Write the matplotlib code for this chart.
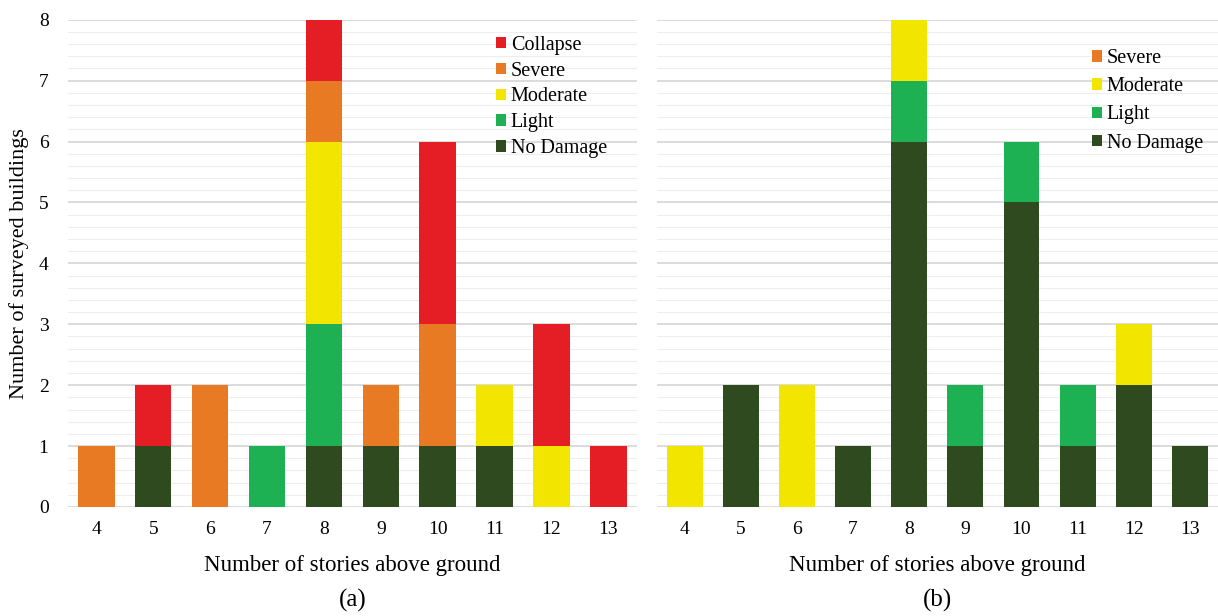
import matplotlib.pyplot as plt
from matplotlib.patches import Patch
import numpy as np

plt.rcParams['font.family'] = ['Liberation Serif', 'DejaVu Serif']

stories = [4, 5, 6, 7, 8, 9, 10, 11, 12, 13]
levels = ['No Damage', 'Light', 'Moderate', 'Severe', 'Collapse']
colors = {
    'No Damage': '#2F4A1F',
    'Light': '#1DB153',
    'Moderate': '#F2E500',
    'Severe': '#E87A24',
    'Collapse': '#E51D25',
}

# panel (a)
a_no_damage = [0, 1, 0, 0, 1, 1, 1, 1, 0, 0]
a_light = [0, 0, 0, 1, 2, 0, 0, 0, 0, 0]
a_moderate = [0, 0, 0, 0, 3, 0, 0, 1, 1, 0]
a_severe = [1, 0, 2, 0, 1, 1, 2, 0, 0, 0]
a_collapse = [0, 1, 0, 0, 1, 0, 3, 0, 2, 1]

# panel (b)
b_no_damage = [0, 2, 0, 1, 6, 1, 5, 1, 2, 1]
b_light = [0, 0, 0, 0, 1, 1, 1, 1, 0, 0]
b_moderate = [1, 0, 2, 0, 1, 0, 0, 0, 1, 0]
b_severe = [0, 0, 0, 0, 0, 0, 0, 0, 0, 0]
b_collapse = [0, 0, 0, 0, 0, 0, 0, 0, 0, 0]

data_a = [a_no_damage, a_light, a_moderate, a_severe, a_collapse]
data_b = [b_no_damage, b_light, b_moderate, b_severe, b_collapse]

fig = plt.figure(figsize=(12.18, 6.16), dpi=100)
ax_a = fig.add_axes([0.0558, 0.177, 0.467, 0.791])
ax_b = fig.add_axes([0.539, 0.177, 0.461, 0.791])


def draw_panel(ax, data, legend_levels, show_y, letter, legend_anchor, spacing):
    x = np.arange(len(stories))
    bottom = np.zeros(len(stories))
    for lvl, vals in zip(levels, data):
        vals = np.array(vals, dtype=float)
        ax.bar(x, vals, width=0.64, bottom=bottom, color=colors[lvl],
               zorder=3, linewidth=0)
        bottom += vals
    ax.set_xlim(-0.5, len(stories) - 0.5)
    ax.set_ylim(0, 8)
    ax.set_xticks(x)
    ax.set_xticklabels([str(s) for s in stories], fontsize=14)
    ax.set_yticks(range(0, 9))
    ax.set_yticks(np.arange(0, 8, 0.2), minor=True)
    ax.grid(axis='y', which='major', color='#D6D6D6', linewidth=1.2, zorder=0)
    ax.grid(axis='y', which='minor', color='#EEEEEE', linewidth=0.8, zorder=0)
    ax.tick_params(axis='both', which='both', length=0)
    ax.tick_params(axis='x', pad=10)
    ax.tick_params(axis='y', labelsize=14, pad=14)
    for s in ax.spines.values():
        s.set_visible(False)
    if show_y:
        ax.set_ylabel('Number of surveyed buildings', fontsize=16)
        ax.yaxis.set_label_coords(-0.068, 0.5)
    else:
        ax.set_yticklabels([])
    ax.set_xlabel('Number of stories above ground', fontsize=16.5, labelpad=12)
    ax.text(0.5, -0.191, letter, transform=ax.transAxes, ha='center',
            va='center', fontsize=18)
    handles = [Patch(facecolor=colors[l], edgecolor='none', label=l)
               for l in legend_levels]
    leg = ax.legend(handles=handles, loc='upper left',
                    bbox_to_anchor=legend_anchor, frameon=False,
                    fontsize=14.5, handlelength=0.5, handleheight=0.5,
                    handletextpad=0.25, labelspacing=spacing,
                    borderaxespad=0, borderpad=0)
    leg.set_zorder(5)


draw_panel(ax_a, data_a, ['Collapse', 'Severe', 'Moderate', 'Light', 'No Damage'],
           True, '(a)', (0.752, 0.967), 0.34)
draw_panel(ax_b, data_b, ['Severe', 'Moderate', 'Light', 'No Damage'],
           False, '(b)', (0.775, 0.94), 0.46)

fig.savefig('out.png', dpi=100, facecolor='white')
